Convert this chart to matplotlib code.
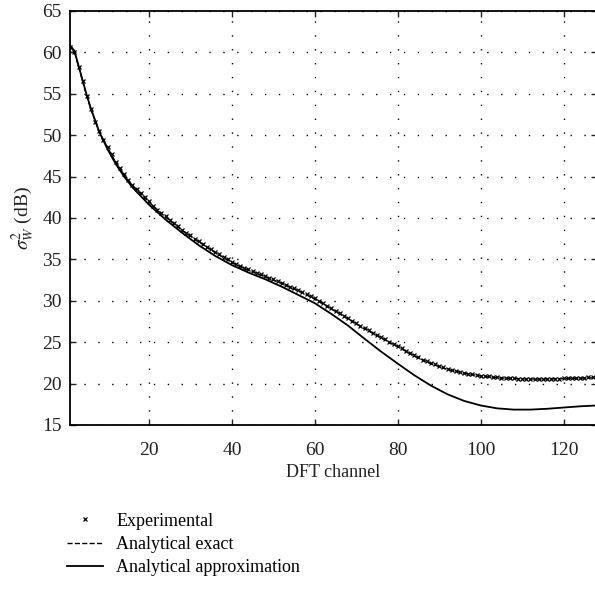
import numpy as np
import matplotlib
matplotlib.use("Agg")
import matplotlib.pyplot as plt

plt.rcParams['font.family'] = ['Liberation Serif', 'DejaVu Serif']
plt.rcParams['mathtext.fontset'] = 'stix'

# experimental points, one per DFT channel (1..128)
exp_ch = np.arange(1, 129)
exp_val = [
    60.6, 60.0, 58.2, 56.5, 54.7, 53.2, 51.6, 50.5, 49.4, 48.6,
    47.7, 46.8, 46.0, 45.3, 44.6, 44.0, 43.5, 43.0, 42.5, 42.0,
    41.5, 41.0, 40.6, 40.2, 39.8, 39.4, 39.0, 38.6, 38.2, 37.9,
    37.5, 37.2, 36.8, 36.5, 36.2, 35.9, 35.6, 35.3, 35.0, 34.7,
    34.45, 34.2, 34.0, 33.8, 33.6, 33.4, 33.2, 33.0, 32.8, 32.6,
    32.4, 32.2, 31.95, 31.7, 31.5, 31.3, 31.0, 30.8, 30.55, 30.3,
    30.0, 29.7, 29.4, 29.1, 28.8, 28.5, 28.2, 27.9, 27.6, 27.3,
    27.0, 26.7, 26.45, 26.15, 25.9, 25.6, 25.35, 25.05, 24.8, 24.55,
    24.25, 23.95, 23.65, 23.4, 23.15, 22.9, 22.7, 22.5, 22.3, 22.1,
    21.95, 21.8, 21.65, 21.5, 21.4, 21.3, 21.2, 21.1, 21.0, 20.95,
    20.9, 20.85, 20.8, 20.75, 20.7, 20.7, 20.65, 20.65, 20.6, 20.6,
    20.6, 20.6, 20.6, 20.6, 20.6, 20.6, 20.6, 20.6, 20.6, 20.65,
    20.65, 20.65, 20.7, 20.7, 20.7, 20.75, 20.75, 20.8,
]

# analytical curves
ana_ch = [1, 2, 3, 4, 5, 6, 8, 10, 12, 14, 16, 20, 24, 28, 32, 36, 40, 44,
          48, 52, 56, 60, 64, 68, 72, 76, 80, 84, 88, 92, 96, 100, 104, 108,
          112, 116, 120, 124, 128]
exact_val = [60.7, 60.1, 58.3, 56.5, 54.7, 53.1, 50.4, 48.5, 46.7, 45.2,
             43.9, 41.9, 40.1, 38.5, 37.1, 35.8, 34.6, 33.7, 32.9, 32.1,
             31.2, 30.2, 29.0, 27.8, 26.6, 25.5, 24.45, 23.3, 22.4, 21.7,
             21.25, 20.9, 20.7, 20.6, 20.55, 20.55, 20.6, 20.65, 20.7]
approx_val = [60.8, 60.2, 58.4, 56.6, 54.8, 53.2, 50.4, 48.3, 46.5, 45.0,
              43.7, 41.6, 39.8, 38.2, 36.7, 35.4, 34.3, 33.4, 32.6, 31.7,
              30.7, 29.7, 28.4, 27.0, 25.4, 23.85, 22.4, 21.0, 19.75, 18.7,
              17.9, 17.35, 17.0, 16.85, 16.85, 16.95, 17.1, 17.25, 17.35]

fig = plt.figure(figsize=(5.95, 5.91), dpi=100)
ax = fig.add_axes([0.118, 0.281, 0.885, 0.7005])

h_exp, = ax.plot(exp_ch, exp_val, 'x', color='black', ms=3.5, mew=0.9,
                 label='Experimental')
h_exact, = ax.plot(ana_ch, exact_val, '--', color='black', lw=1.0,
                   label='Analytical exact')
h_approx, = ax.plot(ana_ch, approx_val, '-', color='black', lw=1.3,
                    label='Analytical approximation')

ax.set_xlim(1, 128)
ax.set_ylim(15, 65)
ax.set_xticks([20, 40, 60, 80, 100, 120])
ax.set_yticks(np.arange(15, 66, 5))
ax.grid(True, color='black', linestyle=(0, (1, 9)), lw=1.0)
ax.tick_params(direction='in', top=True, right=True, length=4, width=1,
               labelsize=14, colors='#222222')
ax.tick_params(axis='x', pad=12)
ax.tick_params(axis='y', pad=6)
for s in ax.spines.values():
    s.set_linewidth(1.3)

ax.set_xlabel('DFT channel', fontsize=13, color='#222222', labelpad=4)
ax.set_ylabel(r'$\sigma_W^2$ (dB)', fontsize=14, color='#222222', labelpad=4)

fig.legend(handles=[h_exp, h_exact, h_approx], loc='upper left',
           bbox_to_anchor=(0.1, 0.145), bbox_transform=fig.transFigure,
           frameon=False, fontsize=13, numpoints=1, handlelength=2.0,
           handletextpad=0.75, labelspacing=0.35, borderaxespad=0)

fig.savefig('out.png', dpi=100)
